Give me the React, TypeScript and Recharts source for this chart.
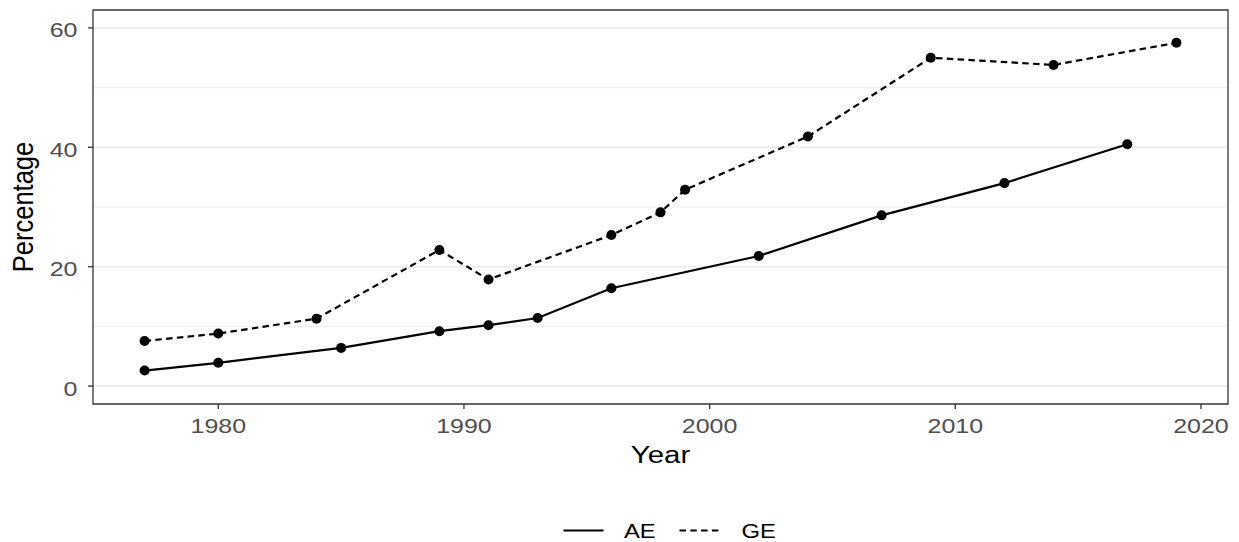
import React from 'react';
import { LineChart, Line, XAxis, YAxis, CartesianGrid, ReferenceArea, Legend, Label } from 'recharts';

const AE_YEARS = [1977, 1980, 1985, 1989, 1991, 1993, 1996, 2002, 2007, 2012, 2017];
const AE_VALUES = [2.6, 3.9, 6.4, 9.2, 10.2, 11.4, 16.4, 21.8, 28.6, 34.0, 40.5];
const GE_YEARS = [1977, 1980, 1984, 1989, 1991, 1996, 1998, 1999, 2004, 2009, 2014, 2019];
const GE_VALUES = [7.55, 8.8, 11.3, 22.8, 17.85, 25.3, 29.1, 32.9, 41.8, 55.0, 53.8, 57.5];
const X_TICKS = [1980, 1990, 2000, 2010, 2020];
const Y_TICKS = [0, 20, 40, 60];
const Y_MINOR = [10, 30, 50];
const SERIES_NAMES = ['AE', 'GE'];

const aeData = AE_YEARS.map((year, i) => ({ year, value: AE_VALUES[i] }));
const geData = GE_YEARS.map((year, i) => ({ year, value: GE_VALUES[i] }));

const X_DOMAIN: [number, number] = [1974.9, 2021.1];
const Y_DOMAIN: [number, number] = [-3, 63];

const FONT = '"Liberation Sans", Arial, sans-serif';
const DASH = '6.5 4.3';
const SX = 1.19; // horizontal text stretch seen in the reference

const StretchText = ({ x, y, anchor, size, fill, children, dy }: any) => (
  <text
    x={x / SX}
    y={y}
    dy={dy}
    transform={`scale(${SX},1)`}
    textAnchor={anchor}
    fontSize={size}
    fontFamily={FONT}
    fill={fill}
  >
    {children}
  </text>
);

const XTick = (props: any) => (
  <StretchText x={props.x} y={props.y} anchor="middle" size={21} fill="#4d4d4d" dy="0.71em">
    {props.payload.value}
  </StretchText>
);

const YTick = (props: any) => (
  <StretchText x={props.x} y={props.y + 2} anchor="end" size={21} fill="#4d4d4d" dy="0.355em">
    {props.payload.value}
  </StretchText>
);

const LegendContent = () => (
  <div style={{ width: 1228, height: 38 }}>
    <svg width={1228} height={38} style={{ display: 'block' }}>
      <line x1={563.5} x2={603.5} y1={26.5} y2={26.5} stroke="#000" strokeWidth={2.2} />
      <StretchText x={624} y={34.3} anchor="start" size={20} fill="#000">
        {SERIES_NAMES[0]}
      </StretchText>
      <line x1={679.5} x2={718.5} y1={26.5} y2={26.5} stroke="#000" strokeWidth={2.2} strokeDasharray={DASH} />
      <StretchText x={741.5} y={34.3} anchor="start" size={20} fill="#000">
        {SERIES_NAMES[1]}
      </StretchText>
    </svg>
  </div>
);

const YLabel = (props: any) => {
  const vb = props.viewBox || {};
  const cx = vb.x + 33.3;
  const cy = vb.y + vb.height / 2;
  return (
    <text
      x={0}
      y={0}
      transform={`translate(${cx}, ${cy}) scale(${SX},1) rotate(-90)`}
      textAnchor="middle"
      fontSize={25.5}
      fontFamily={FONT}
      fill="#000"
    >
      Percentage
    </text>
  );
};

const XLabel = (props: any) => {
  const vb = props.viewBox || {};
  const cx = vb.x + vb.width / 2;
  const cy = vb.y + 59.3;
  return (
    <StretchText x={cx} y={cy} anchor="middle" size={24.7} fill="#000">
      Year
    </StretchText>
  );
};

export default function App() {
  return (
    <div style={{ position: 'absolute', left: 0, top: 0, width: 1239, height: 542, background: '#fff' }}>
      <LineChart width={1239} height={542} margin={{ top: 10, right: 11, bottom: 0, left: 0 }}>
        <CartesianGrid vertical={false} horizontalValues={Y_MINOR} stroke="#ebebeb" strokeWidth={0.9} />
        <CartesianGrid vertical={false} horizontalValues={Y_TICKS} stroke="#ebebeb" strokeWidth={1.6} />
        <XAxis
          type="number"
          dataKey="year"
          domain={X_DOMAIN}
          ticks={X_TICKS}
          allowDataOverflow
          height={100}
          axisLine={false}
          tickLine={{ stroke: '#333333', strokeWidth: 1.3 }}
          tickSize={5}
          tickMargin={8.7}
          tick={<XTick />}
        >
          <Label content={<XLabel />} />
        </XAxis>
        <YAxis
          type="number"
          domain={Y_DOMAIN}
          ticks={Y_TICKS}
          allowDataOverflow
          width={93}
          axisLine={false}
          tickLine={{ stroke: '#333333', strokeWidth: 1.3 }}
          tickSize={5}
          tickMargin={10.5}
          tick={<YTick />}
        >
          <Label content={<YLabel />} />
        </YAxis>
        <ReferenceArea
          x1={X_DOMAIN[0]}
          x2={X_DOMAIN[1]}
          y1={Y_DOMAIN[0]}
          y2={Y_DOMAIN[1]}
          fill="none"
          fillOpacity={0}
          stroke="#333333"
          strokeOpacity={1}
          strokeWidth={1.3}
          ifOverflow="extendDomain"
        />
        <Line
          data={aeData}
          dataKey="value"
          name={SERIES_NAMES[0]}
          stroke="#000"
          strokeWidth={2.2}
          dot={{ r: 5, fill: '#000', stroke: '#000', strokeWidth: 0 }}
          activeDot={false}
          isAnimationActive={false}
        />
        <Line
          data={geData}
          dataKey="value"
          name={SERIES_NAMES[1]}
          stroke="#000"
          strokeWidth={2.2}
          strokeDasharray={DASH}
          dot={{ r: 5, fill: '#000', stroke: '#000', strokeWidth: 0, strokeDasharray: '' }}
          activeDot={false}
          isAnimationActive={false}
        />
        <Legend verticalAlign="bottom" align="left" content={<LegendContent />} />
      </LineChart>
    </div>
  );
}
